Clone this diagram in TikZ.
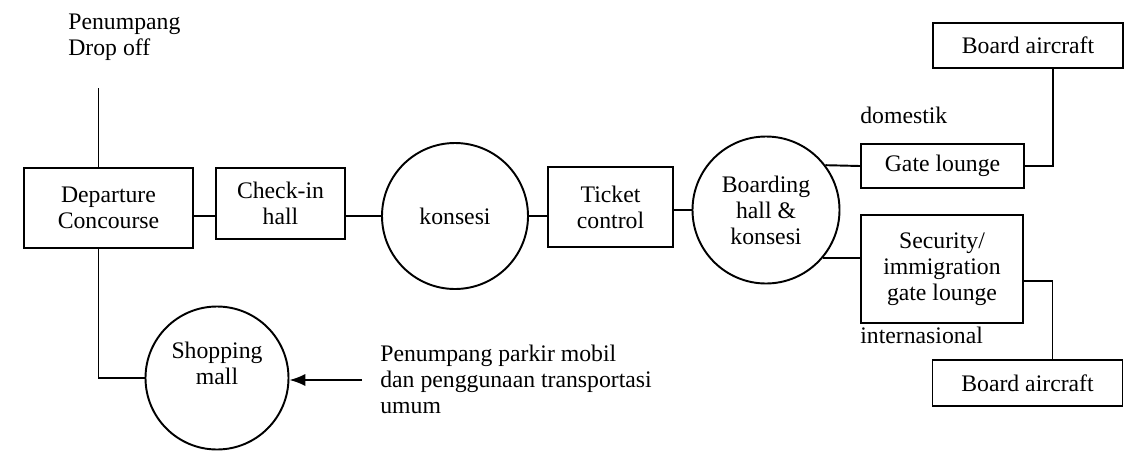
\documentclass[tikz,border=0pt]{standalone}
\usepackage{fontspec}
\setmainfont{Liberation Serif}
\usepackage{tikz}
\usetikzlibrary{arrows.meta, positioning}

\begin{document}
\begin{tikzpicture}[
        every node/.style={font=\fontsize{13.5}{14.8}\selectfont, inner sep=0pt},
        area/.style={rectangle, draw, line width=1.1pt, align=center},
        hub/.style={circle, draw, line width=1.1pt, align=center, minimum size=2.92cm},
        link/.style={line width=1.1pt},
        >=Latex
    ]
    \useasboundingbox (0,0) rectangle (22.68,-9);

    % Departure side
    \node[align=left, anchor=west] (drop) at (1.36, -0.74) {Penumpang\\Drop off};
    \node[area, minimum width=3.38cm, minimum height=1.6cm] (dep) at (2.17, -4.16) {Departure\\Concourse};
    \node[area, minimum width=2.58cm, minimum height=1.42cm] (checkin) at (5.61, -4.07) {Check-in\\hall};
    \node[hub] (kons) at (9.1, -4.32) {konsesi};
    \node[area, minimum width=2.5cm, minimum height=1.6cm] (ticket) at (12.21, -4.14) {Ticket\\control};
    \node[hub, minimum size=2.94cm] (board) at (15.32, -4.2) {Boarding\\hall \&\\konsesi};

    % Domestic branch
    \node[anchor=west] (dom) at (17.2, -2.3) {domestik};
    \node[area, minimum width=3.26cm, minimum height=0.88cm] (gate) at (18.85, -3.32) {Gate lounge};
    \node[area, minimum width=3.8cm, minimum height=0.9cm] (board1) at (20.56, -0.91) {Board aircraft};

    % International branch
    \node[area, minimum width=3.24cm, minimum height=2.16cm] (sec) at (18.84, -5.38) {Security/\\immigration\\gate lounge};
    \node[anchor=west] (intl) at (17.2, -6.7) {internasional};
    \node[area, minimum width=3.8cm, minimum height=0.92cm] (board2) at (20.55, -7.66) {Board aircraft};

    % Shopping mall and car park arrivals
    \node[hub, minimum size=2.86cm] (shop) at (4.34, -7.56) {Shopping\\mall\\[2pt]};
    \node[align=left, anchor=west] (park) at (7.6, -7.58) {Penumpang parkir mobil\\dan penggunaan transportasi\\umum};

    \coordinate (dropoff) at (1.97, -1.76);
    \coordinate (parkin) at (7.24, -7.6);

    % Connectors
    \draw[link] (dropoff) -- (dropoff |- dep.north);
    \draw[link] (dep.east |- kons) -- (checkin.west |- kons);
    \draw[link] (checkin.east |- kons) -- (kons.west);
    \draw[link] (kons.east) -- (ticket.west |- kons);
    \draw[link] (ticket.east |- board) -- (board.west);
    \draw[link] (board.37) -- (gate.west);
    \draw[link] (board.-40) -- (board.-40 -| sec.west);
    \draw[link] (gate.east) -| ([xshift=0.5cm]board1.south);
    \draw[link] ([yshift=-0.24cm]sec.east) -| ([xshift=0.5cm]board2.north);
    \draw[link] ([xshift=-0.2cm]dep.south) |- (shop.west);
    \draw[link, -{Latex[length=9pt, width=7pt]}] (parkin) -- (shop.east |- parkin);
\end{tikzpicture}
\end{document}
